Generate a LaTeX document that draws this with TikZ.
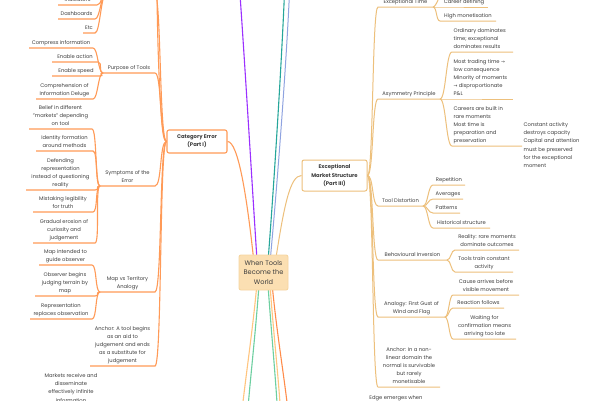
\documentclass[tikz,border=0pt]{standalone}
\usepackage{fontspec}
\setmainfont{Poppins}
\newfontfamily\dvs{DejaVu Sans}
\usetikzlibrary{calc}
\pgfdeclarelayer{back}
\pgfdeclarelayer{lines}
\pgfsetlayers{back,lines,main}
\definecolor{tc}{HTML}{3E3E3E}
\definecolor{orL}{HTML}{FF9A57}
\definecolor{tnR}{HTML}{EDC07C}
\definecolor{rootfill}{HTML}{FBDFB2}
\definecolor{rootdraw}{HTML}{F6D5A0}
\definecolor{purp}{HTML}{9B30FF}
\definecolor{teal}{HTML}{26A69A}
\definecolor{blu}{HTML}{8FA3E0}
\definecolor{lor}{HTML}{FFC57F}
\definecolor{grn}{HTML}{6DCFA0}
\definecolor{dor}{HTML}{FF8C4A}
\newcommand\lff{\fontsize{5.2}{8.2}\selectfont}
\newcommand\ar{{\dvs\fontsize{4.6}{8.2}\selectfont →}}
\newcommand\LeafC[5]{%
  \coordinate (#1L) at (#2,#4);
  \coordinate (#1R) at (#3,#4);
  \node[txt, align=center, anchor=south] (#1) at ($(#1L)!0.5!(#1R)+(0,-0.5)$) {#5\strut};
}
\newcommand\LeafL[5]{%
  \coordinate (#1L) at (#2,#4);
  \coordinate (#1R) at (#3,#4);
  \node[txt, align=left, anchor=south west] (#1) at ($(#1L)+(1.5,-0.5)$) {#5\strut};
}
\tikzset{
  txt/.style={text=tc, inner sep=0pt, font=\lff},
  lo/.style={draw=orL, line width=1.1pt},
  lt/.style={draw=tnR, line width=1pt},
  boxnode/.style={fill=white, line width=1.1pt, rounded corners=2pt, align=center, text=tc,
    inner sep=0pt, font=\fontsize{5.3}{8.3}\selectfont\bfseries},
  rootnode/.style={fill=rootfill, draw=rootdraw, line width=0.9pt, rounded corners=2pt, align=center,
    text=tc, inner sep=0pt, minimum width=49pt, minimum height=35pt, font=\fontsize{6.6}{9.7}\selectfont},
  rl/.style={line width=1.1pt},
}
\begin{document}
\begin{tikzpicture}[x=1pt,y=-1pt]
\useasboundingbox (0,0) rectangle (600,400);
\clip (0,0) rectangle (600,400);
\begin{pgfonlayer}{back}
\fill[white] (0,0) rectangle (600,400);
\end{pgfonlayer}

% ---------- main nodes
\node[rootnode] (root) at (263.5,272.5) {When Tools\\Become the\\World};
\node[boxnode, draw=orL, minimum width=60pt, minimum height=23pt] (cat) at (197,141.5) {Category Error\\(Part I)};
\node[boxnode, draw=tnR, line width=1pt, minimum width=65pt, minimum height=31pt] (ems) at (334.5,175.5) {Exceptional\\Market Structure\\(Part III)};

% ---------- root connectors
\coordinate (offP) at (239,-20);
\coordinate (offT) at (285,-20);
\coordinate (offB) at (290,-20);
\coordinate (offb1) at (241,420);
\coordinate (offb2) at (247,420);
\coordinate (offb3) at (278,420);
\coordinate (offb4) at (281,420);
\coordinate (offb5) at (289,420);
\begin{pgfonlayer}{lines}
\draw[rl, purp] ($(root.center)+(-6,-5)$) .. controls (253,200) and (246,80) .. (offP);
\draw[rl, teal] ($(root.center)+(4,-5)$) .. controls (273,200) and (282,60) .. (offT);
\draw[rl, blu, line width=1pt] ($(root.center)+(6,-5)$) .. controls (276,200) and (287,60) .. (offB);
\draw[lo] ($(root.center)+(-9,-5)$) .. controls (247,195) and (238,141.5) .. (cat.east);
\draw[lt] ($(root.center)+(11,-5)$) .. controls (284,205) and (290,175.5) .. (ems.west);
\draw[rl, lor] ($(root.center)+(-6,5)$) .. controls (253,330) and (245,380) .. (offb1);
\draw[rl, grn] ($(root.center)+(-4,5)$) .. controls (256,330) and (250,380) .. (offb2);
\draw[rl, grn] ($(root.center)+(4,5)$) .. controls (271,330) and (276,380) .. (offb3);
\draw[rl, lor] ($(root.center)+(6,5)$) .. controls (273,330) and (279,380) .. (offb4);
\draw[rl, dor] ($(root.center)+(8,5)$) .. controls (276,330) and (285,380) .. (offb5);
\end{pgfonlayer}

% ---------- left: offscreen parent of indicators
\coordinate (topL) at (106,-6);
\coordinate (topR) at (155,-6);
\coordinate (top2) at (157,-12);
\draw[lo] (topL) -- (topR) .. controls +(6,0) and +(-7,0) .. (cat.west);
\draw[lo] (cat.west) .. controls +(-7,0) and +(0,30) .. (top2);
\LeafC{ind}{58}{97}{5}{Indicators}
\LeafC{dash}{58}{95}{19}{Dashboards}
\LeafC{etc}{83}{95}{33}{Etc}
\foreach \n in {ind,dash,etc}{\draw[lo] (\n L) -- (\n R) .. controls +(5,0) and +(-5,0) .. (topL);}

% ---------- Purpose of Tools
\LeafC{purp}{103}{155}{73}{Purpose of Tools}
\draw[lo] (purpL) -- (purpR) .. controls +(7,0) and +(-7,0) .. (cat.west);
\LeafC{comp}{29}{93}{48}{Compress information}
\LeafC{act}{52}{98}{62}{Enable action}
\LeafC{spd}{52}{100}{76}{Enable speed}
\LeafC{compr}{36}{93}{99}{Comprehension of\\Information Deluge}
\foreach \n in {comp,act,spd,compr}{\draw[lo] (\n L) -- (\n R) .. controls +(5,0) and +(-5,0) .. (purpL);}

% ---------- Symptoms
\LeafC{symp}{100}{155}{186}{Symptoms of the\\Error}
\draw[lo] (sympL) -- (sympR) .. controls +(7,0) and +(-7,0) .. (cat.west);
\LeafC{belief}{29}{92}{129}{Belief in different\\"markets" depending\\on tool}
\LeafC{ident}{36}{93}{151}{Identity formation\\around methods}
\LeafC{defend}{26}{95}{190}{Defending\\representation\\instead of questioning\\reality}
\LeafC{mist}{33}{93}{212}{Mistaking legibility\\for truth}
\LeafC{grad}{33}{95}{243}{Gradual erosion of\\curiosity and\\judgement}
\foreach \n in {belief,ident,defend,mist,grad}{\draw[lo] (\n L) -- (\n R) .. controls +(5,0) and +(-5,0) .. (sympL);}

% ---------- Map vs Territory
\LeafC{mvt}{100}{155}{292}{Map vs Territory\\Analogy}
\draw[lo] (mvtL) -- (mvtR) .. controls +(7,0) and +(-7,0) .. (cat.west);
\LeafC{mapi}{39}{92}{265}{Map intended to\\guide observer}
\LeafC{obs}{35}{95}{296}{Observer begins\\judging terrain by\\map}
\LeafC{repr}{30}{92}{319}{Representation\\replaces observation}
\foreach \n in {mapi,obs,repr}{\draw[lo] (\n L) -- (\n R) .. controls +(5,0) and +(-5,0) .. (mvtL);}

% ---------- Anchor (left)
\LeafC{anc}{90}{155}{366}{Anchor: A tool begins\\as an aid to\\judgement and ends\\as a substitute for\\judgement}
\draw[lo] (ancL) -- (ancR) .. controls +(7,0) and +(-7,0) .. (cat.west);

\node[txt, align=center, anchor=north] (mkt) at (71,373.3) {Markets receive and\\disseminate\\effectively infinite\\information};

% ---------- right: Exceptional Time
\LeafC{ext}{378}{433}{7}{Exceptional Time}
\draw[lt] (ems.east) .. controls +(6,0) and +(-6,0) .. (extL) -- (extR);
\coordinate (extoff) at (441,-8);
\draw[lt] (extR) .. controls +(3,0) and +(-1,3) .. (extoff);
\LeafC{career}{440}{488}{7}{Career defining}
\LeafC{highm}{440}{496}{21}{High monetisation}
\foreach \n in {career,highm}{\draw[lt] (extR) .. controls +(4,0) and +(-4,0) .. (\n L) -- (\n R);}

% ---------- Asymmetry Principle
\LeafC{asym}{378}{440}{99}{Asymmetry Principle}
\draw[lt] (ems.east) .. controls +(6,0) and +(-6,0) .. (asymL) -- (asymR);
\LeafL{ord}{452}{513}{52}{Ordinary dominates\\time; exceptional\\dominates results}
\LeafL{most}{452}{513}{99}{Most trading time \ar\\low consequence\\Minority of moments\\\ar\ disproportionate\\P\&L}
\LeafL{care}{452}{522}{146}{Careers are built in\\rare moments\\Most time is\\preparation and\\preservation}
\foreach \n in {ord,most,care}{\draw[lt] (asymR) .. controls +(6,0) and +(-6,0) .. (\n L) -- (\n R);}
\node[txt, align=left, anchor=west] (const) at ($(careR)+(1.5,-1)$) {Constant activity\\destroys capacity\\Capital and attention\\must be preserved\\for the exceptional\\moment};

% ---------- Tool Distortion
\LeafC{tdist}{378}{423}{206}{Tool Distortion}
\draw[lt] (ems.east) .. controls +(6,0) and +(-6,0) .. (tdistL) -- (tdistR);
\LeafC{repet}{433}{465}{185}{Repetition}
\LeafC{avg}{433}{463}{199}{Averages}
\LeafC{patt}{433}{460}{213}{Patterns}
\LeafC{hist}{433}{490}{228}{Historical structure}
\foreach \n in {repet,avg,patt,hist}{\draw[lt] (tdistR) .. controls +(5,0) and +(-5,0) .. (\n L) -- (\n R);}

% ---------- Behavioural Inversion
\LeafC{binv}{378}{447}{260}{Behavioural Inversion}
\draw[lt] (ems.east) .. controls +(6,0) and +(-6,0) .. (binvL) -- (binvR);
\LeafC{real}{455}{519}{250}{Reality: rare moments\\dominate outcomes}
\LeafC{ttrain}{455}{513}{272}{Tools train constant\\activity}
\foreach \n in {real,ttrain}{\draw[lt] (binvR) .. controls +(4,0) and +(-4,0) .. (\n L) -- (\n R);}

% ---------- Analogy
\LeafC{anlg}{378}{445}{317}{Analogy: First Gust of\\Wind and Flag}
\draw[lt] (ems.east) .. controls +(6,0) and +(-6,0) .. (anlgL) -- (anlgR);
\LeafC{cause}{453}{519}{295}{Cause arrives before\\visible movement}
\LeafC{react}{453}{504}{308}{Reaction follows}
\LeafC{wait}{453}{516}{339}{Waiting for\\confirmation means\\arriving too late}
\foreach \n in {cause,react,wait}{\draw[lt] (anlgR) .. controls +(4,0) and +(-4,0) .. (\n L) -- (\n R);}

% ---------- Anchor (right)
\LeafC{anr}{378}{440}{387}{Anchor: In a non-\\linear domain the\\normal is survivable\\but rarely\\monetisable}
\draw[lt] (ems.east) .. controls +(6,0) and +(-6,0) .. (anrL) -- (anrR);

\node[txt, anchor=base] (edge) at (396,399) {Edge emerges when};
\end{tikzpicture}
\end{document}
